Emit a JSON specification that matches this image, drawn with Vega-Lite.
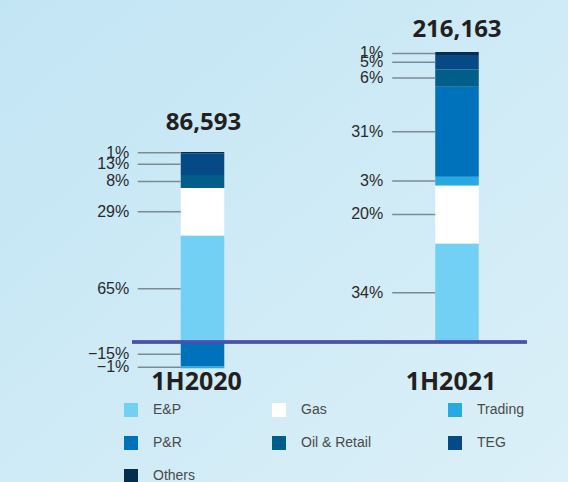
{
  "$schema": "https://vega.github.io/schema/vega-lite/v6.json",
  "width": 568,
  "height": 482,
  "padding": 0,
  "autosize": {"type": "none"},
  "background": "#cfeaf6",
  "view": {
    "stroke": null,
    "fill": {"gradient": "linear", "x1": 0, "y1": 0, "x2": 1, "y2": 1,
      "stops": [{"offset": 0, "color": "#c2e5f4"}, {"offset": 1, "color": "#dbf0f8"}]}
  },
  "config": {
    "font": "Liberation Sans",
    "legend": {
      "orient": "none",
      "direction": "horizontal",
      "legendX": 124,
      "legendY": 403,
      "columns": 3,
      "symbolType": "square",
      "symbolSize": 196,
      "symbolStrokeWidth": 0,
      "labelFontSize": 14,
      "labelFont": "Liberation Sans",
      "labelColor": "#4a4a4a",
      "labelOffset": 15,
      "columnPadding": 76,
      "rowPadding": 19
    }
  },
  "datasets": {
    "shares": [
      {"period": "1H2020", "segment": "E&P", "pct": 65},
      {"period": "1H2020", "segment": "Gas", "pct": 29},
      {"period": "1H2020", "segment": "Oil & Retail", "pct": 8},
      {"period": "1H2020", "segment": "TEG", "pct": 13},
      {"period": "1H2020", "segment": "Others", "pct": 1},
      {"period": "1H2020", "segment": "P&R", "pct": -15},
      {"period": "1H2020", "segment": "Trading", "pct": -1},
      {"period": "1H2021", "segment": "E&P", "pct": 34},
      {"period": "1H2021", "segment": "Gas", "pct": 20},
      {"period": "1H2021", "segment": "Trading", "pct": 3},
      {"period": "1H2021", "segment": "P&R", "pct": 31},
      {"period": "1H2021", "segment": "Oil & Retail", "pct": 6},
      {"period": "1H2021", "segment": "TEG", "pct": 5},
      {"period": "1H2021", "segment": "Others", "pct": 1}
    ],
    "totals": [
      {"period": "1H2020", "total": 86593},
      {"period": "1H2021", "total": 216163}
    ]
  },
  "resolve": {"scale": {"y": "independent"}, "axis": {"y": "independent"}},
  "layer": [
    {
      "data": {"name": "shares"},
      "transform": [
        {"filter": "datum.period === '1H2020'"},
        {"calculate": "indexof(['E&P','Gas','P&R','Trading','Oil & Retail','TEG','Others'], datum.segment)", "as": "ord"},
        {"stack": "pct", "groupby": ["period"], "sort": [{"field": "ord", "order": "ascending"}], "as": ["lo", "hi"]},
        {"calculate": "(datum.lo + datum.hi) / 2", "as": "mid"},
        {"calculate": "format(datum.pct, 'd') + '%'", "as": "label"}
      ],
      "encoding": {
        "x": {"field": "period", "type": "nominal", "axis": null,
          "scale": {"type": "band", "domain": ["1H2020", "1H2021"], "range": [180.75, 478.75], "paddingInner": 0.829, "paddingOuter": 0}}
      },
      "layer": [
        {
          "mark": {"type": "bar"},
          "encoding": {
            "y": {"field": "hi", "type": "quantitative", "axis": null, "scale": {"domain": [-85.5, 208.8], "nice": false, "zero": false}},
            "y2": {"field": "lo"},
            "color": {"field": "segment", "type": "nominal", "legend": {"title": null},
              "scale": {"domain": ["E&P", "Gas", "Trading", "P&R", "Oil & Retail", "TEG", "Others"],
                "range": ["#72d0f4", "#ffffff", "#27a9e1", "#0072bb", "#005e89", "#054a86", "#032e4f"]}}
          }
        },
        {
          "mark": {"type": "rule", "xOffset": -43, "color": "#7b8b94", "strokeWidth": 1.5},
          "encoding": {
            "x": {"field": "period", "type": "nominal", "bandPosition": 0},
            "x2": {"field": "period", "bandPosition": 0},
            "y": {"field": "mid", "type": "quantitative"}
          }
        },
        {
          "mark": {"type": "text", "align": "right", "baseline": "middle", "dx": -51.5, "fontSize": 16, "color": "#2a2a2a"},
          "encoding": {
            "x": {"field": "period", "type": "nominal", "bandPosition": 0},
            "y": {"field": "mid", "type": "quantitative"},
            "text": {"field": "label"}
          }
        },
        {
          "transform": [
            {"aggregate": [{"op": "max", "field": "hi", "as": "top"}], "groupby": ["period"]},
            {"lookup": "period", "from": {"data": {"name": "totals"}, "key": "period", "fields": ["total"]}},
            {"calculate": "format(datum.total, ',')", "as": "totalText"}
          ],
          "layer": [
            {
              "mark": {"type": "text", "align": "center", "baseline": "middle", "dy": -29, "dx": 1, "font": "Open Sans", "fontWeight": "bold", "fontSize": 24, "color": "#231f20"},
              "encoding": {
                "y": {"field": "top", "type": "quantitative"},
                "text": {"field": "totalText"}
              }
            },
            {
              "mark": {"type": "text", "align": "center", "baseline": "middle", "dy": 40, "dx": -6, "font": "Open Sans", "fontWeight": "bold", "fontSize": 25, "color": "#231f20"},
              "encoding": {
                "y": {"datum": 0},
                "text": {"field": "period"}
              }
            }
          ]
        }
      ]
    },
    {
      "data": {"name": "shares"},
      "transform": [
        {"filter": "datum.period === '1H2021'"},
        {"calculate": "indexof(['E&P','Gas','Trading','P&R','Oil & Retail','TEG','Others'], datum.segment)", "as": "ord"},
        {"stack": "pct", "groupby": ["period"], "sort": [{"field": "ord", "order": "ascending"}], "as": ["lo", "hi"]},
        {"calculate": "(datum.lo + datum.hi) / 2", "as": "mid"},
        {"calculate": "format(datum.pct, 'd') + '%'", "as": "label"}
      ],
      "encoding": {
        "x": {"field": "period", "type": "nominal", "axis": null}
      },
      "layer": [
        {
          "mark": {"type": "bar"},
          "encoding": {
            "y": {"field": "hi", "type": "quantitative", "axis": null, "scale": {"domain": [-48.28, 117.93], "nice": false, "zero": false}},
            "y2": {"field": "lo"},
            "color": {"field": "segment", "type": "nominal", "legend": {"title": null},
              "scale": {"domain": ["E&P", "Gas", "Trading", "P&R", "Oil & Retail", "TEG", "Others"],
                "range": ["#72d0f4", "#ffffff", "#27a9e1", "#0072bb", "#005e89", "#054a86", "#032e4f"]}}
          }
        },
        {
          "mark": {"type": "rule", "xOffset": -43, "color": "#7b8b94", "strokeWidth": 1.5},
          "encoding": {
            "x": {"field": "period", "type": "nominal", "bandPosition": 0},
            "x2": {"field": "period", "bandPosition": 0},
            "y": {"field": "mid", "type": "quantitative"}
          }
        },
        {
          "mark": {"type": "text", "align": "right", "baseline": "middle", "dx": -52, "fontSize": 16, "color": "#2a2a2a"},
          "encoding": {
            "x": {"field": "period", "type": "nominal", "bandPosition": 0},
            "y": {"field": "mid", "type": "quantitative"},
            "text": {"field": "label"}
          }
        },
        {
          "transform": [
            {"aggregate": [{"op": "max", "field": "hi", "as": "top"}], "groupby": ["period"]},
            {"lookup": "period", "from": {"data": {"name": "totals"}, "key": "period", "fields": ["total"]}},
            {"calculate": "format(datum.total, ',')", "as": "totalText"}
          ],
          "layer": [
            {
              "mark": {"type": "text", "align": "center", "baseline": "middle", "dy": -22, "font": "Open Sans", "fontWeight": "bold", "fontSize": 24, "color": "#231f20"},
              "encoding": {
                "y": {"field": "top", "type": "quantitative"},
                "text": {"field": "totalText"}
              }
            },
            {
              "mark": {"type": "text", "align": "center", "baseline": "middle", "dy": 40, "dx": -6, "font": "Open Sans", "fontWeight": "bold", "fontSize": 25, "color": "#231f20"},
              "encoding": {
                "y": {"datum": 0},
                "text": {"field": "period"}
              }
            }
          ]
        },
        {
          "mark": {"type": "rule", "color": "#4a4fb0", "strokeWidth": 2.5, "xOffset": -48.75, "x2Offset": 48},
          "encoding": {
            "x": {"datum": "1H2020", "bandPosition": 0},
            "x2": {"datum": "1H2021", "bandPosition": 1},
            "y": {"datum": 0}
          }
        }
      ]
    }
  ]
}
